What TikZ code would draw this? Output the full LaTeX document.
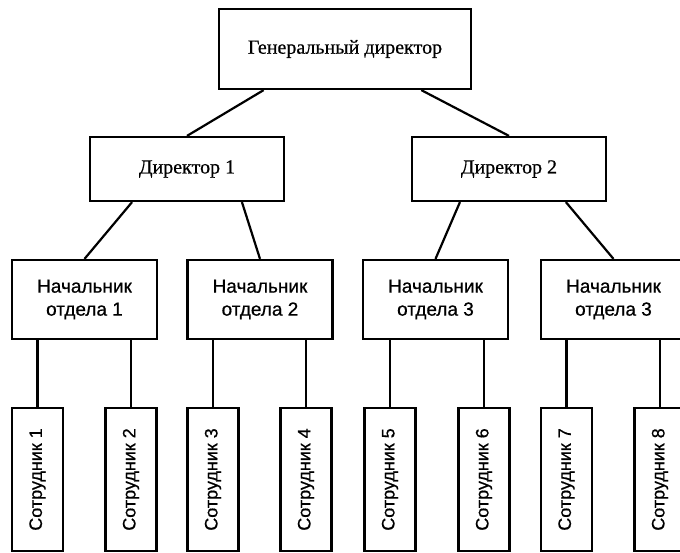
\documentclass[tikz,border=0pt]{standalone}
\usepackage{fontspec}
\setmainfont{Liberation Serif}[FakeBold=0.6]
\setsansfont{Liberation Sans}[FakeBold=0.6]
\usepackage{graphicx}
\usetikzlibrary{calc}
\begin{document}
\begin{tikzpicture}[x=1pt,y=-1pt,
  box/.style={draw,line width=2.2pt,inner sep=0pt,align=center},
  topbox/.style={box,font=\fontsize{20}{24}\selectfont},
  chief/.style={box,minimum width=145pt,minimum height=79pt,font=\sffamily\fontsize{19}{23}\selectfont},
  emp/.style={box,minimum width=51pt,minimum height=143pt,font=\sffamily\fontsize{18}{22}\selectfont},
  link/.style={line width=2.2pt}]
\useasboundingbox (0,0) rectangle (680,553);
\clip (0,0) rectangle (680,553);
\fill[white] (0,0) rectangle (680,553);

\node[topbox,minimum width=252pt,minimum height=80pt] (g) at (345,49) {Генеральный директор};
\node[topbox,minimum width=194pt,minimum height=64pt] (d1) at (187,169) {Директор 1};
\node[topbox,minimum width=194pt,minimum height=64pt] (d2) at (509,169) {Директор 2};

\node[chief] (c1) at (84.5,299.5) {Начальник\\отдела 1};
\node[chief] (c2) at (260,299.5) {Начальник\\отдела 2};
\node[chief] (c3) at (435.5,299.5) {Начальник\\отдела 3};
\node[chief] (c4) at (613.5,299.5) {Начальник\\отдела 3};

\node[emp] (s1) at (37.5,479.5) {\rotatebox{90}{Сотрудник 1}};
\node[emp] (s2) at (131,479.5) {\rotatebox{90}{Сотрудник 2}};
\node[emp] (s3) at (213,479.5) {\rotatebox{90}{Сотрудник 3}};
\node[emp] (s4) at (306,479.5) {\rotatebox{90}{Сотрудник 4}};
\node[emp] (s5) at (390,479.5) {\rotatebox{90}{Сотрудник 5}};
\node[emp] (s6) at (484,479.5) {\rotatebox{90}{Сотрудник 6}};
\node[emp] (s7) at (566.5,479.5) {\rotatebox{90}{Сотрудник 7}};
\node[emp] (s8) at (660,479.5) {\rotatebox{90}{Сотрудник 8}};

\draw[link] ($(g.south west)!0.18!(g.south east)$) -- (d1.north);
\draw[link] ($(g.south west)!0.80!(g.south east)$) -- (d2.north);
\draw[link] ($(d1.south west)!0.22!(d1.south east)$) -- (c1.north);
\draw[link] ($(d1.south west)!0.78!(d1.south east)$) -- (c2.north);
\draw[link] ($(d2.south west)!0.25!(d2.south east)$) -- (c3.north);
\draw[link] ($(d2.south west)!0.79!(d2.south east)$) -- (c4.north);

\draw[link] (s1.north |- c1.south) -- (s1.north);
\draw[link] (s2.north |- c1.south) -- (s2.north);
\draw[link] (s3.north |- c2.south) -- (s3.north);
\draw[link] (s4.north |- c2.south) -- (s4.north);
\draw[link] (s5.north |- c3.south) -- (s5.north);
\draw[link] (s6.north |- c3.south) -- (s6.north);
\draw[link] (s7.north |- c4.south) -- (s7.north);
\draw[link] (s8.north |- c4.south) -- (s8.north);
\end{tikzpicture}
\end{document}
